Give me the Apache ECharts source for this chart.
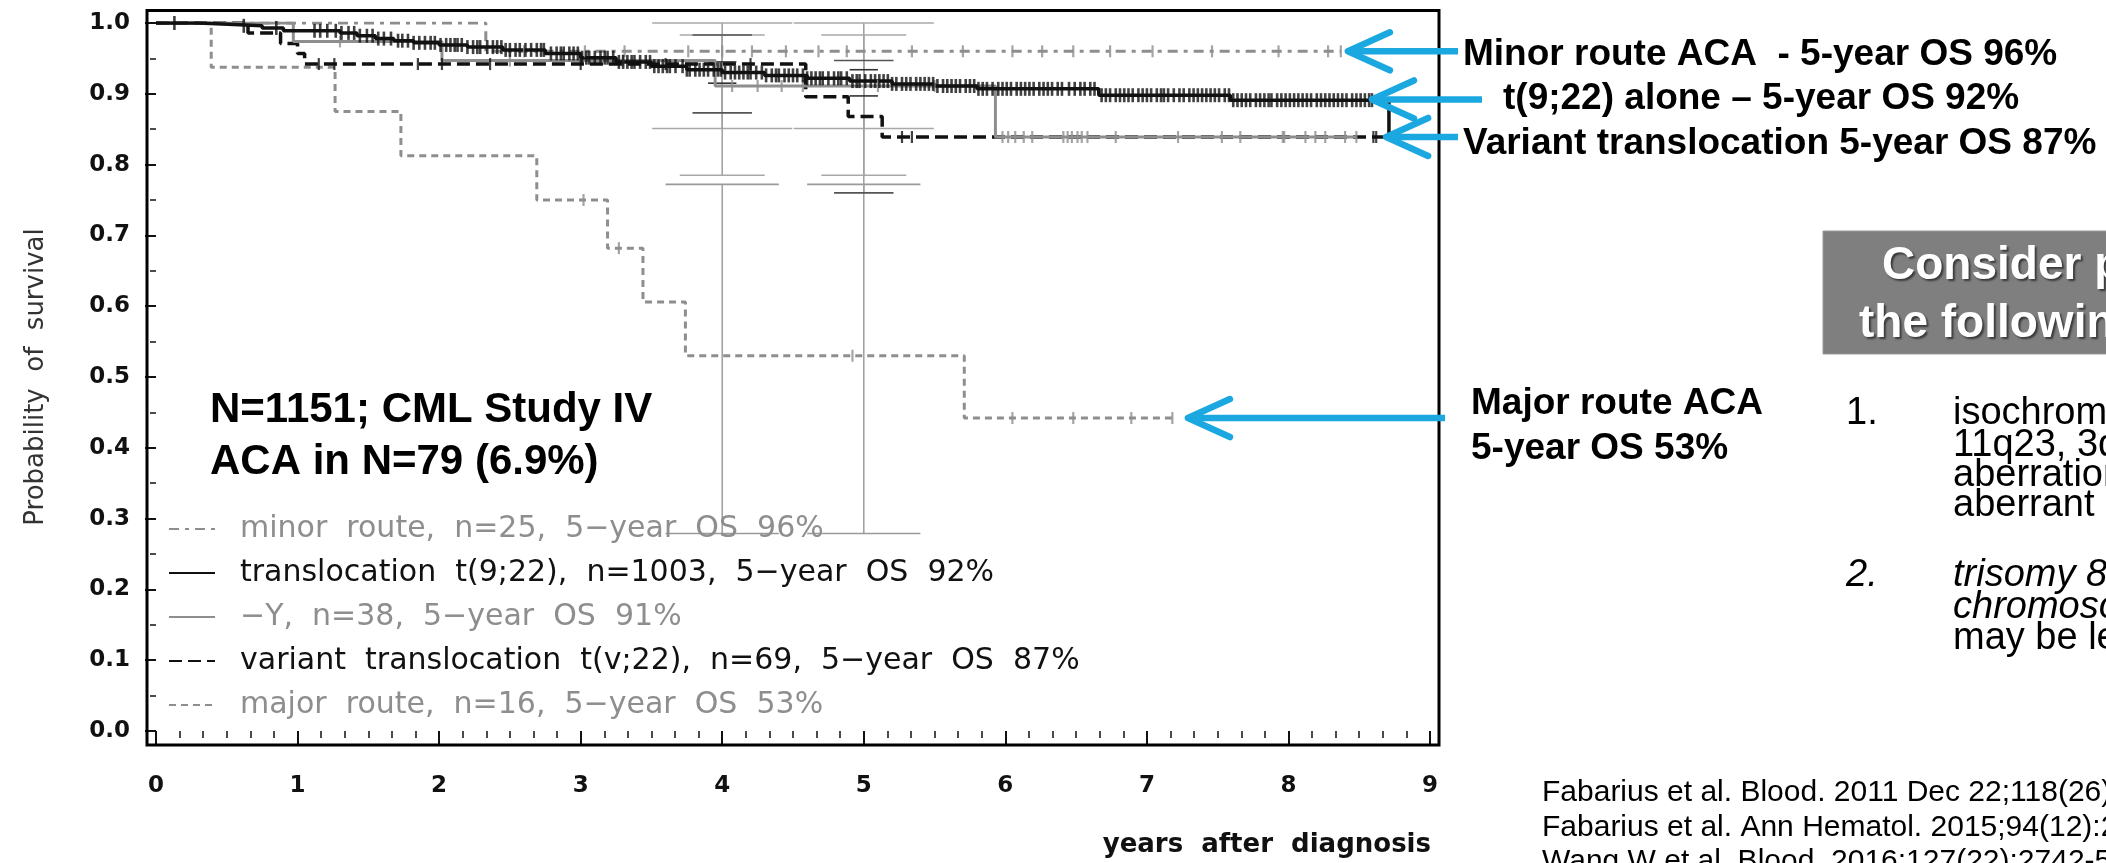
<!DOCTYPE html>
<html>
<head>
<meta charset="utf-8">
<script src="https://cdn.jsdelivr.net/npm/echarts@6/dist/echarts.min.js"></script>
<style>
html, body { margin: 0; padding: 0; background: #fff; }
#main { width: 2106px; height: 863px; }
</style>
</head>
<body>
<div id="main"></div>
<script>
// --- Kaplan-Meier curves (years after diagnosis, probability of survival) ---
var groupNames = [
    'minor route, n=25, 5−year OS 96%',
    'translocation t(9;22), n=1003, 5−year OS 92%',
    '−Y, n=38, 5−year OS 91%',
    'variant translocation t(v;22), n=69, 5−year OS 87%',
    'major route, n=16, 5−year OS 53%'
];

var minorTimes = [0, 2.33, 8.37];
var minorSurv  = [1, 0.96, 0.96];

var transTimes = [0, 0.3, 0.55, 0.75, 0.9, 1.3, 1.42, 1.55, 1.68, 1.82, 2.0, 2.2, 2.45, 2.75, 3.0, 3.25, 3.5, 3.75, 4.0, 4.3, 4.6, 4.9, 5.2, 5.5, 5.8, 6.66, 7.59, 8.71, 8.76];
var transSurv  = [1, 0.998, 0.996, 0.993, 0.989, 0.986, 0.982, 0.978, 0.975, 0.972, 0.969, 0.966, 0.962, 0.957, 0.951, 0.945, 0.939, 0.934, 0.93, 0.926, 0.922, 0.918, 0.914, 0.911, 0.907, 0.898, 0.891, 0.835, 0.835];

var minusYTimes = [0, 0.97, 2.02, 3.95, 5.93, 8.48];
var minusYSurv  = [1, 0.974, 0.947, 0.911, 0.839, 0.839];

var variantTimes = [0, 0.65, 0.88, 1.0, 1.05, 4.59, 4.89, 5.13, 8.72];
var variantSurv  = [1, 0.986, 0.971, 0.957, 0.942, 0.896, 0.868, 0.839, 0.839];

var majorTimes = [0, 0.39, 1.265, 1.73, 2.69, 3.19, 3.44, 3.74, 5.71, 7.18];
var majorSurv  = [1, 0.9375, 0.875, 0.8125, 0.75, 0.682, 0.606, 0.53, 0.442, 0.442];

// censored observations (years)
var minorCensor   = [2.6, 3.03, 3.31, 3.76, 4.0, 4.21, 4.45, 4.68, 4.88, 5.34, 5.7, 6.05, 6.26, 6.48, 6.74, 7.04, 7.46, 7.93, 8.28, 8.37];
var transCensor   = [0.13, 0.62, 0.85, 1.12, 1.16, 1.21, 1.27, 1.31, 1.36, 1.4, 1.44, 1.49, 1.53, 1.57, 1.61, 1.66, 1.71, 1.74, 1.78, 1.82, 1.86, 1.9, 1.94, 1.97, 2.01, 2.05, 2.08, 2.11, 2.13, 2.16, 2.2, 2.24, 2.27, 2.29, 2.34, 2.38, 2.41, 2.44, 2.47, 2.5, 2.54, 2.57, 2.61, 2.65, 2.69, 2.72, 2.74, 2.79, 2.83, 2.86, 2.88, 2.92, 2.95, 2.98, 3.01, 3.04, 3.06, 3.1, 3.14, 3.17, 3.19, 3.23, 3.27, 3.3, 3.33, 3.36, 3.38, 3.42, 3.46, 3.49, 3.52, 3.55, 3.58, 3.61, 3.63, 3.67, 3.72, 3.75, 3.77, 3.81, 3.84, 3.87, 3.9, 3.94, 3.97, 3.99, 4.02, 4.06, 4.09, 4.12, 4.15, 4.18, 4.2, 4.24, 4.28, 4.31, 4.35, 4.38, 4.4, 4.44, 4.47, 4.5, 4.53, 4.57, 4.6, 4.63, 4.66, 4.69, 4.71, 4.75, 4.79, 4.82, 4.84, 4.88, 4.92, 4.95, 4.97, 5.01, 5.05, 5.08, 5.11, 5.14, 5.17, 5.2, 5.23, 5.27, 5.3, 5.33, 5.37, 5.4, 5.43, 5.46, 5.49, 5.52, 5.56, 5.59, 5.62, 5.65, 5.68, 5.72, 5.75, 5.78, 5.81, 5.84, 5.87, 5.91, 5.95, 5.98, 6.01, 6.04, 6.08, 6.11, 6.14, 6.17, 6.2, 6.24, 6.27, 6.3, 6.33, 6.37, 6.4, 6.45, 6.49, 6.53, 6.56, 6.6, 6.63, 6.68, 6.71, 6.74, 6.78, 6.81, 6.84, 6.87, 6.9, 6.94, 6.97, 7.0, 7.03, 7.07, 7.1, 7.12, 7.15, 7.19, 7.23, 7.26, 7.3, 7.33, 7.36, 7.39, 7.42, 7.45, 7.48, 7.51, 7.55, 7.58, 7.61, 7.64, 7.67, 7.7, 7.73, 7.77, 7.8, 7.83, 7.86, 7.88, 7.92, 7.95, 7.98, 8.01, 8.04, 8.07, 8.1, 8.13, 8.16, 8.2, 8.23, 8.26, 8.29, 8.32, 8.35, 8.38, 8.41, 8.45, 8.48, 8.51, 8.54, 8.57, 8.59];
var minusYCensor  = [1.3, 2.5, 3.3, 4.07, 4.25, 4.42, 4.57, 5.1, 5.5, 5.98, 6.02, 6.07, 6.13, 6.19, 6.41, 6.44, 6.47, 6.51, 6.54, 6.58, 6.78, 7.22, 7.53, 7.66, 7.96, 7.97, 8.12, 8.19, 8.26, 8.4, 8.48];
var variantCensor = [1.15, 1.26, 1.85, 2.02, 2.36, 3.0, 3.6, 4.2, 5.27, 5.34, 8.6, 8.62];
var majorCensor   = [3.02, 3.27, 4.92, 6.05, 6.48, 6.89, 7.18];

// 95% confidence intervals at 4 and 5 years: [low, high]
var ciYears   = [4, 5];
var minorCI   = [[0.851, 1.0], [0.851, 1.0]];
var transCI   = [[0.915, 0.945], [0.897, 0.934]];
var minusYCI  = [[0.785, 0.983], [0.785, 0.983]];
var variantCI = [[0.873, 0.983], [0.76, 0.947]];
var majorCI   = [[0.279, 0.772], [0.279, 0.772]];

// arrow annotations: tip in data coords, tail x in px
var arrowTips  = [[8.42, 0.96], [8.59, 0.892], [8.69, 0.839], [7.29, 0.442]];
var arrowTails = [1458, 1482, 1458, 1445];

var GRAY = '#8e8e8e', BLACK = '#111', BLUE = '#1ba8e0';
var FIG_FONT = 'DejaVu Sans', SLIDE_FONT = 'Liberation Sans';

function stepAt(times, surv, t) {
    var v = surv[0];
    for (var i = 0; i < times.length; i++) { if (times[i] <= t) v = surv[i]; }
    return v;
}

function kmLine(name, times, surv, color, dash, width) {
    return {
        name: name, type: 'line', step: 'end', symbol: 'none', z: 4,
        data: times.map(function (t, i) { return [t, surv[i]]; }),
        lineStyle: { color: color, width: width, type: dash },
        itemStyle: { color: color }
    };
}

function censorTicks(name, times, kmT, kmS, color, w, h) {
    return {
        name: name, type: 'scatter', symbol: 'rect', symbolSize: [w, h], silent: true, z: 5,
        itemStyle: { color: color },
        data: times.map(function (t) { return [t, stepAt(kmT, kmS, t)]; })
    };
}

function ciBars(name, ci, halfW, capColor) {
    return {
        name: name, type: 'custom', silent: true, z: 2,
        data: ciYears.map(function (y, i) { return [y, ci[i][0], ci[i][1]]; }),
        renderItem: function (params, api) {
            var x = api.value(0), lo = api.value(1), hi = api.value(2);
            var top = api.coord([x, hi]), bot = api.coord([x, lo]);
            var l = api.coord([x - halfW, hi])[0], r = api.coord([x + halfW, hi])[0];
            return { type: 'group', children: [
                { type: 'line', shape: { x1: top[0], y1: top[1], x2: bot[0], y2: bot[1] }, style: { stroke: '#a2a2a2', lineWidth: 1.6 } },
                { type: 'line', shape: { x1: l, y1: top[1], x2: r, y2: top[1] }, style: { stroke: capColor, lineWidth: 1.6 } },
                { type: 'line', shape: { x1: l, y1: bot[1], x2: r, y2: bot[1] }, style: { stroke: capColor, lineWidth: 1.6 } }
            ]};
        }
    };
}

var chart = echarts.init(document.getElementById('main'));

var option = {
    backgroundColor: '#fff',
    animation: false,
    grid: { left: 156, right: 676, top: 23, bottom: 132 },
    xAxis: {
        type: 'value', min: 0, max: 9, interval: 1, offset: 14,
        axisLine: { show: false },
        axisTick: { length: 13, lineStyle: { color: '#111', width: 2 } },
        minorTick: { show: true, splitNumber: 6, length: 7, lineStyle: { color: '#111', width: 1.5 } },
        splitLine: { show: false },
        axisLabel: { margin: 30, color: '#111', fontFamily: FIG_FONT, fontWeight: 'bold', fontSize: 23 },
        name: 'years  after  diagnosis', nameLocation: 'end', nameGap: 1,
        nameTextStyle: { align: 'right', verticalAlign: 'top', padding: [101, 0, 0, 0], color: '#111', fontFamily: FIG_FONT, fontWeight: 'bold', fontSize: 26 }
    },
    yAxis: {
        type: 'value', min: 0, max: 1, interval: 0.1, offset: 9,
        axisLine: { show: false },
        axisTick: { length: 11, lineStyle: { color: '#111', width: 2 } },
        minorTick: { show: true, splitNumber: 2, length: 6, lineStyle: { color: '#111', width: 1.5 } },
        splitLine: { show: false },
        axisLabel: { margin: 17, color: '#111', fontFamily: FIG_FONT, fontWeight: 'bold', fontSize: 23,
            formatter: function (v) { return v.toFixed(1); } },
        name: 'Probability  of  survival', nameLocation: 'middle', nameRotate: 90, nameGap: 98,
        nameTextStyle: { color: '#333', fontFamily: FIG_FONT, fontSize: 26 }
    },
    legend: {
        orient: 'vertical', left: 163, top: 509, itemWidth: 46, itemHeight: 30, itemGap: 14,
        selectedMode: false,
        lineStyle: { width: 2 },
        itemStyle: { color: 'transparent', borderColor: 'transparent', borderWidth: 0, opacity: 0 },
        textStyle: { fontFamily: FIG_FONT, fontSize: 30, padding: [0, 0, 0, 20] },
        formatter: function (n) { return n.replace(/ /g, '  '); },
        data: [
            { name: groupNames[0], textStyle: { color: GRAY } },
            { name: groupNames[1], textStyle: { color: BLACK } },
            { name: groupNames[2], textStyle: { color: GRAY } },
            { name: groupNames[3], textStyle: { color: BLACK } },
            { name: groupNames[4], textStyle: { color: GRAY } }
        ]
    },
    series: [
        ciBars('ci minor', minorCI, 0.495, '#a8a8a8'),
        ciBars('ci major', majorCI, 0.40, '#9a9a9a'),
        ciBars('ci -Y', minusYCI, 0.30, '#a8a8a8'),
        ciBars('ci variant', variantCI, 0.21, '#555'),
        ciBars('ci trans', transCI, 0.10, '#333'),

        kmLine(groupNames[0], minorTimes, minorSurv, GRAY, [10, 6, 4, 6], 3),
        kmLine(groupNames[4], majorTimes, majorSurv, GRAY, [7, 5], 3),
        kmLine(groupNames[3], variantTimes, variantSurv, BLACK, [13, 6], 3.5),
        kmLine(groupNames[2], minusYTimes, minusYSurv, GRAY, 'solid', 3),
        kmLine(groupNames[1], transTimes, transSurv, BLACK, 'solid', 3.5),

        censorTicks('c minor', minorCensor, minorTimes, minorSurv, GRAY, 2.2, 12),
        censorTicks('c major', majorCensor, majorTimes, majorSurv, GRAY, 2.2, 12),
        censorTicks('c -Y', minusYCensor, minusYTimes, minusYSurv, GRAY, 2.2, 12),
        censorTicks('c variant', variantCensor, variantTimes, variantSurv, BLACK, 2.2, 12),
        censorTicks('c trans', transCensor, transTimes, transSurv, BLACK, 2.6, 14)
    ]
};
chart.setOption(option);

function txt(text, x, y, size, o) {
    o = o || {};
    return {
        type: 'text', x: x, y: y, z: 20,
        style: {
            text: text, fontFamily: o.family || SLIDE_FONT, fontSize: size,
            fontWeight: o.weight || 'normal', fontStyle: o.style || 'normal',
            fill: o.color || '#000', align: 'left', verticalAlign: 'middle',
            textShadowColor: o.shadow ? 'rgba(0,0,0,0.55)' : 'transparent',
            textShadowBlur: o.shadow ? 2 : 0, textShadowOffsetX: o.shadow ? 2 : 0, textShadowOffsetY: o.shadow ? 2 : 0
        }
    };
}

var graphics = [];
// plot frame
graphics.push({ type: 'rect', z: 10, shape: { x: 147, y: 10.5, width: 1292, height: 734.5 },
    style: { fill: 'none', stroke: '#000', lineWidth: 3 } });

// arrows
arrowTips.forEach(function (tip, i) {
    var p = chart.convertToPixel({ gridIndex: 0 }, tip);
    var st = { stroke: BLUE, lineWidth: 6.5, lineCap: 'round', lineJoin: 'round', fill: 'none' };
    graphics.push({ type: 'line', z: 15, shape: { x1: p[0] + 3, y1: p[1], x2: arrowTails[i], y2: p[1] }, style: { stroke: BLUE, lineWidth: 6.5, lineCap: 'butt' } });
    graphics.push({ type: 'polyline', z: 15, shape: { points: [[p[0] + 42, p[1] - 19], [p[0], p[1]], [p[0] + 42, p[1] + 19]] }, style: st });
});

// annotations
graphics.push(txt('N=1151; CML Study IV', 210, 410, 42, { weight: 'bold' }));
graphics.push(txt('ACA in N=79 (6.9%)', 210, 462, 42, { weight: 'bold' }));
graphics.push(txt('Minor route ACA  - 5-year OS 96%', 1463, 55, 37, { weight: 'bold' }));
graphics.push(txt('t(9;22) alone – 5-year OS 92%', 1503, 99, 37, { weight: 'bold' }));
graphics.push(txt('Variant translocation 5-year OS 87%', 1463, 144, 37, { weight: 'bold' }));
graphics.push(txt('Major route ACA', 1471, 404, 37, { weight: 'bold' }));
graphics.push(txt('5-year OS 53%', 1471, 449, 37, { weight: 'bold' }));

// grey heading box
graphics.push({ type: 'rect', z: 18, shape: { x: 1823, y: 231, width: 300, height: 123 },
    style: { fill: '#7f7f7f', stroke: '#9a9a9a', lineWidth: 1 } });
graphics.push(txt('Consider prognostic impact of', 1882, 266, 46, { weight: 'bold', color: '#fff', shadow: true }));
graphics.push(txt('the following ACA', 1859, 324, 46, { weight: 'bold', color: '#fff', shadow: true }));

// numbered list
graphics.push(txt('1.', 1846, 414, 38));
graphics.push(txt('isochromosome 17q,', 1953, 414, 38));
graphics.push(txt('11q23, 3q26', 1953, 446, 38));
graphics.push(txt('aberrations', 1953, 476, 38));
graphics.push(txt('aberrant karyotype', 1953, 506, 38));
graphics.push(txt('2.', 1846, 575, 38, { style: 'italic' }));
graphics.push(txt('trisomy 8, +Ph', 1953, 575, 38, { style: 'italic' }));
graphics.push(txt('chromosome', 1953, 607, 38, { style: 'italic' }));
graphics.push(txt('may be less', 1953, 639, 38));

// references
graphics.push(txt('Fabarius et al. Blood. 2011 Dec 22;118(26):6760-8.', 1542, 793, 30));
graphics.push(txt('Fabarius et al. Ann Hematol. 2015;94(12):2015-24.', 1542, 828, 30));
graphics.push(txt('Wang W et al. Blood. 2016;127(22):2742-50.', 1542, 862, 30));

chart.setOption({ graphic: graphics });
</script>
</body>
</html>
